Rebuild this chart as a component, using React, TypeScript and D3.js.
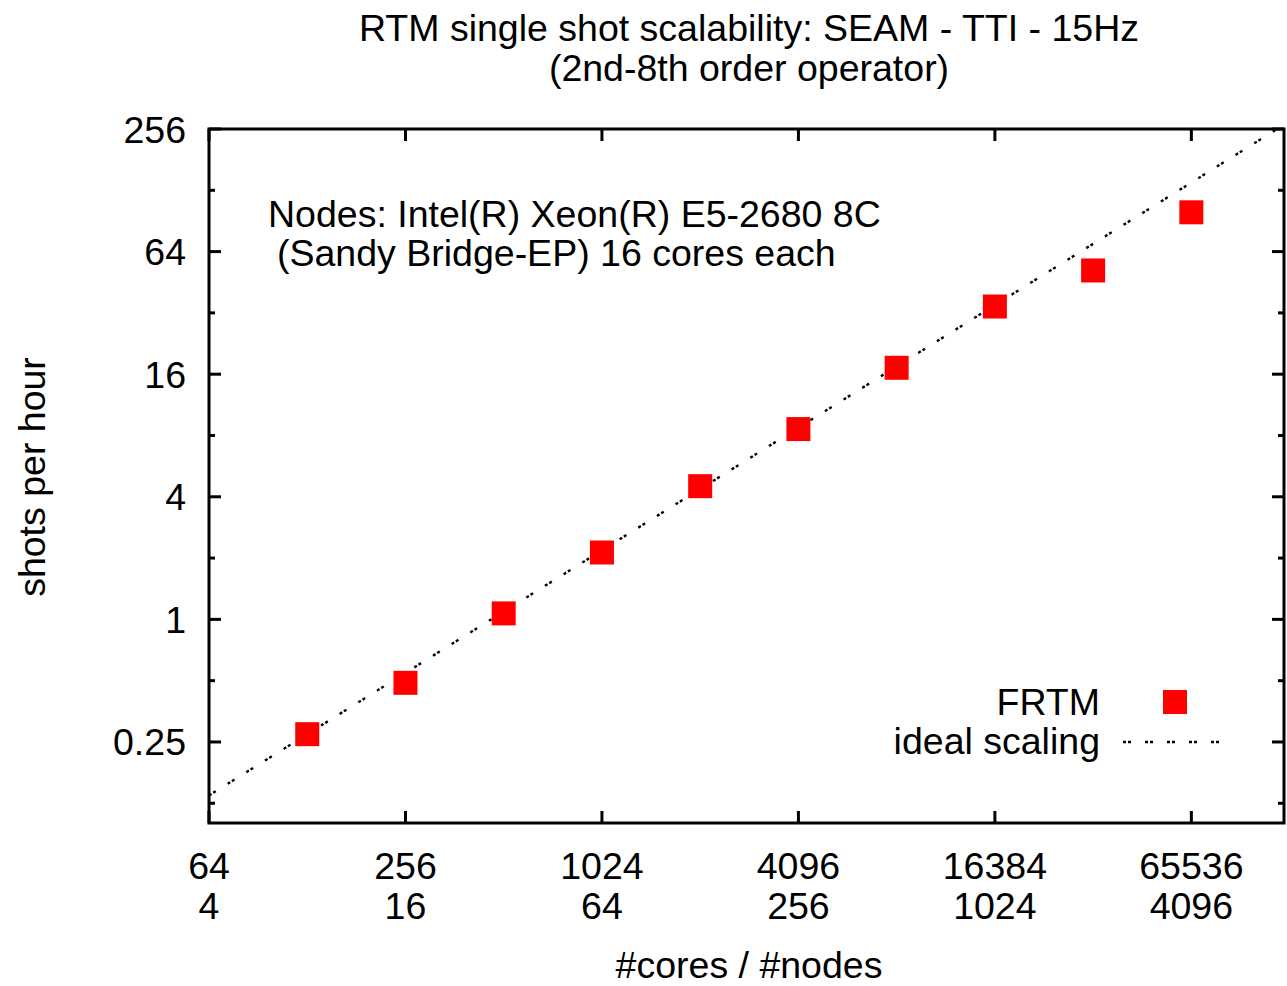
import { useEffect, useRef } from "react";
import * as d3 from "d3";

const cores = [128, 256, 512, 1024, 2048, 4096, 8192, 16384, 32768, 65536];
const nodes = [8, 16, 32, 64, 128, 256, 512, 1024, 2048, 4096];
const shotsPerHour = [0.273, 0.488, 1.07, 2.13, 4.51, 8.6, 17.2, 34.4, 51.7, 99.8];

const xTicks = [64, 256, 1024, 4096, 16384, 65536];
const xTickNodes = [4, 16, 64, 256, 1024, 4096];
const yTicks = [0.25, 1, 4, 16, 64, 256];
const yMinorTicks = [0.125, 0.5, 2, 8, 32, 128];
const yTickLabels = ["0.25", "1", "4", "16", "64", "256"];

const WIDTH = 1287;
const HEIGHT = 986;
const FONT = "'Liberation Sans', Arial, Helvetica, sans-serif";

function App() {
  const svgRef = useRef(null);

  useEffect(() => {
    const svg = d3.select(svgRef.current);
    svg.selectAll("*").remove();

    const margin = { top: 129, right: 3, bottom: 163, left: 209 };
    const x0 = margin.left;
    const x1 = WIDTH - margin.right;
    const y0 = HEIGHT - margin.bottom;
    const y1 = margin.top;

    const x = d3.scaleLog().base(2).domain([64, 126000]).range([x0, x1]);
    const y = d3.scaleLog().base(2).domain([0.1, 256]).range([y0, y1]);

    // clip for the ideal line
    svg
      .append("clipPath")
      .attr("id", "plotclip")
      .append("rect")
      .attr("x", x0)
      .attr("y", y1)
      .attr("width", x1 - x0)
      .attr("height", y0 - y1);

    // ideal scaling: linear from the first measurement
    const ratio = shotsPerHour[0] / cores[0];
    const idealX = [64, 126000];
    const line = d3
      .line()
      .x((d) => x(d[0]))
      .y((d) => y(d[1]));

    svg
      .append("path")
      .datum(idealX.map((c) => [c, c * ratio]))
      .attr("clip-path", "url(#plotclip)")
      .attr("fill", "none")
      .attr("stroke", "#000")
      .attr("stroke-width", 2.4)
      .attr("stroke-dasharray", "3,2,3,14");

    svg.select("path").attr("d", line);

    // FRTM points
    const sz = 24;
    svg
      .append("g")
      .selectAll("rect")
      .data(cores)
      .join("rect")
      .attr("x", (d) => x(d) - sz / 2)
      .attr("y", (d, i) => y(shotsPerHour[i]) - sz / 2)
      .attr("width", sz)
      .attr("height", sz)
      .attr("fill", "#ff0000");

    // frame
    svg
      .append("rect")
      .attr("x", x0)
      .attr("y", y1)
      .attr("width", x1 - x0)
      .attr("height", y0 - y1)
      .attr("fill", "none")
      .attr("stroke", "#000")
      .attr("stroke-width", 3);

    const ticks = svg.append("g").attr("stroke", "#000").attr("stroke-width", 3);
    const major = 12;
    const minor = 6;

    xTicks.forEach((t) => {
      const px = x(t);
      ticks.append("line").attr("x1", px).attr("x2", px).attr("y1", y0).attr("y2", y0 - major);
      ticks.append("line").attr("x1", px).attr("x2", px).attr("y1", y1).attr("y2", y1 + major);
    });
    yTicks.forEach((t) => {
      const py = y(t);
      ticks.append("line").attr("x1", x0).attr("x2", x0 + major).attr("y1", py).attr("y2", py);
      ticks.append("line").attr("x1", x1).attr("x2", x1 - major).attr("y1", py).attr("y2", py);
    });
    yMinorTicks.forEach((t) => {
      const py = y(t);
      ticks.append("line").attr("x1", x0).attr("x2", x0 + minor).attr("y1", py).attr("y2", py);
      ticks.append("line").attr("x1", x1).attr("x2", x1 - minor).attr("y1", py).attr("y2", py);
    });

    const text = svg
      .append("g")
      .attr("font-family", FONT)
      .attr("font-size", 37.5)
      .attr("fill", "#000");

    // y tick labels
    yTicks.forEach((t, i) => {
      text
        .append("text")
        .attr("x", x0 - 23)
        .attr("y", y(t) + 13.5)
        .attr("text-anchor", "end")
        .text(yTickLabels[i]);
    });

    // x tick labels: cores / nodes
    xTicks.forEach((t, i) => {
      text
        .append("text")
        .attr("x", x(t))
        .attr("y", 879)
        .attr("text-anchor", "middle")
        .text(String(t));
      text
        .append("text")
        .attr("x", x(t))
        .attr("y", 919)
        .attr("text-anchor", "middle")
        .text(String(xTickNodes[i]));
    });

    // titles
    text
      .append("text")
      .attr("x", 749)
      .attr("y", 41)
      .attr("text-anchor", "middle")
      .text("RTM single shot scalability: SEAM - TTI - 15Hz");
    text
      .append("text")
      .attr("x", 749)
      .attr("y", 81)
      .attr("text-anchor", "middle")
      .text("(2nd-8th order operator)");

    text
      .append("text")
      .attr("x", 749)
      .attr("y", 978)
      .attr("text-anchor", "middle")
      .text("#cores / #nodes");

    text
      .append("text")
      .attr("transform", "translate(45,477) rotate(-90)")
      .attr("text-anchor", "middle")
      .text("shots per hour");

    // annotation
    text
      .append("text")
      .attr("x", 268)
      .attr("y", 227)
      .text("Nodes: Intel(R) Xeon(R) E5-2680 8C");
    text
      .append("text")
      .attr("x", 277)
      .attr("y", 266)
      .text("(Sandy Bridge-EP) 16 cores each");

    // legend
    text
      .append("text")
      .attr("x", 1100)
      .attr("y", 715)
      .attr("text-anchor", "end")
      .text("FRTM");
    text
      .append("text")
      .attr("x", 1100)
      .attr("y", 754)
      .attr("text-anchor", "end")
      .text("ideal scaling");

    svg
      .append("rect")
      .attr("x", 1175 - sz / 2)
      .attr("y", 702 - sz / 2)
      .attr("width", sz)
      .attr("height", sz)
      .attr("fill", "#ff0000");
    svg
      .append("line")
      .attr("x1", 1123)
      .attr("x2", 1228)
      .attr("y1", 742)
      .attr("y2", 742)
      .attr("stroke", "#000")
      .attr("stroke-width", 2.4)
      .attr("stroke-dasharray", "3,2,3,14");
  }, []);

  return (
    <svg
      ref={svgRef}
      width={WIDTH}
      height={HEIGHT}
      style={{ position: "absolute", left: 0, top: 0, background: "#fff" }}
    />
  );
}

export default App;
